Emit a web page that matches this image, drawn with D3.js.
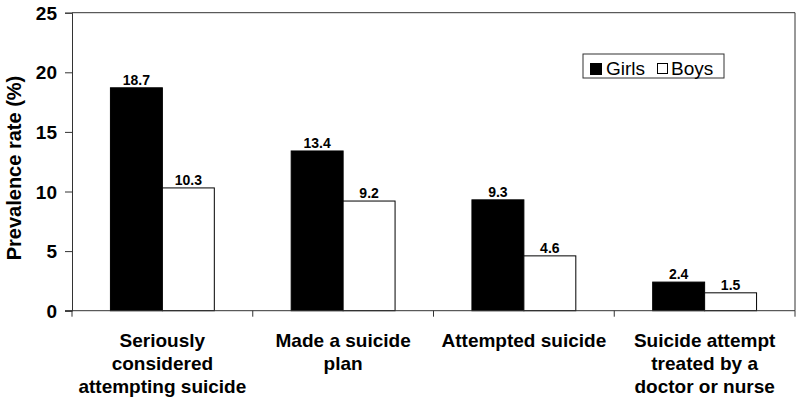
<!DOCTYPE html>
<html>
<head>
<meta charset="utf-8">
<script src="https://cdn.jsdelivr.net/npm/d3@7"></script>
<style>
  body { margin: 0; background: #fff; }
  text { font-family: Arial, "Liberation Sans", Helvetica, sans-serif; }
</style>
</head>
<body>
<script>
// chart data
var categories = [
  ["Seriously", "considered", "attempting suicide"],
  ["Made a suicide", "plan"],
  ["Attempted suicide"],
  ["Suicide attempt", "treated by a", "doctor or nurse"]
];
var seriesNames = ["Girls", "Boys"];
var girls = [18.7, 13.4, 9.3, 2.4];
var boys = [10.3, 9.2, 4.6, 1.5];
var yTicks = [0, 5, 10, 15, 20, 25];

var width = 800, height = 402;
var plotLeft = 72, plotRight = 795, plotTop = 12.7, plotBottom = 310.7;

var svg = d3.select("body").append("svg")
    .attr("width", width)
    .attr("height", height);

var keys = categories.map(function(d, i) { return "c" + i; });

var x0 = d3.scaleBand().domain(keys).range([plotLeft, plotRight]).padding(0);
var x1 = d3.scaleBand().domain(seriesNames).range([0, x0.bandwidth()])
    .paddingInner(0).paddingOuter(0.74);
var y = d3.scaleLinear().domain([0, 25]).range([plotBottom, plotTop]);

// frame (top and right)
svg.append("line").attr("x1", plotLeft).attr("x2", plotRight).attr("y1", plotTop).attr("y2", plotTop)
    .attr("stroke", "#333").attr("stroke-width", 1);
svg.append("line").attr("x1", plotRight).attr("x2", plotRight).attr("y1", plotTop).attr("y2", plotBottom)
    .attr("stroke", "#333").attr("stroke-width", 1);

// bars
var rows = keys.map(function(k, i) {
  return { key: k, values: [ { s: "Girls", v: girls[i] }, { s: "Boys", v: boys[i] } ] };
});

var groups = svg.selectAll("g.grp").data(rows).enter().append("g")
    .attr("class", "grp")
    .attr("transform", function(d) { return "translate(" + x0(d.key) + ",0)"; });

groups.selectAll("rect").data(function(d) { return d.values; }).enter().append("rect")
    .attr("x", function(d) { return x1(d.s); })
    .attr("y", function(d) { return y(d.v); })
    .attr("width", x1.bandwidth())
    .attr("height", function(d) { return y(0) - y(d.v); })
    .attr("fill", function(d) { return d.s == "Girls" ? "#000" : "#fff"; })
    .attr("stroke", "#000")
    .attr("stroke-width", 1);

groups.selectAll("text.val").data(function(d) { return d.values; }).enter().append("text")
    .attr("class", "val")
    .attr("x", function(d) { return x1(d.s) + x1.bandwidth() / 2; })
    .attr("y", function(d) { return y(d.v) - 3; })
    .attr("text-anchor", "middle")
    .style("font-size", "14px")
    .style("font-weight", "bold")
    .text(function(d) { return d.v.toFixed(1); });

// y axis
var yAxis = svg.append("g")
    .attr("transform", "translate(" + plotLeft + ",0)")
    .call(d3.axisLeft(y).tickValues(yTicks).tickSize(7).tickPadding(8));
yAxis.select(".domain").attr("stroke", "#333");
yAxis.selectAll(".tick line").attr("stroke", "#333");
yAxis.selectAll("text").style("font-size", "19px").style("font-weight", "bold")
    .attr("fill", "#000").attr("dy", "0.35em");

// x axis line and group ticks
svg.append("line").attr("x1", plotLeft - 7).attr("x2", plotRight).attr("y1", plotBottom).attr("y2", plotBottom)
    .attr("stroke", "#333");
var edges = keys.map(function(k) { return x0(k); }).concat([plotRight]);
svg.selectAll("line.xtick").data(edges).enter().append("line")
    .attr("class", "xtick")
    .attr("x1", function(d) { return d; }).attr("x2", function(d) { return d; })
    .attr("y1", plotBottom).attr("y2", plotBottom + 6)
    .attr("stroke", "#333");

// category labels
var catLabels = svg.selectAll("text.cat").data(rows).enter().append("text")
    .attr("class", "cat")
    .attr("text-anchor", "middle")
    .style("font-size", "19px")
    .style("font-weight", "bold");
catLabels.each(function(d, i) {
  var t = d3.select(this);
  categories[i].forEach(function(line, j) {
    t.append("tspan")
      .attr("x", x0(d.key) + x0.bandwidth() / 2)
      .attr("y", 347 + j * 23)
      .text(line);
  });
});

// y axis title
svg.append("text")
    .attr("transform", "translate(21," + 168 + ") rotate(-90)")
    .attr("text-anchor", "middle")
    .style("font-size", "20px")
    .style("font-weight", "bold")
    .text("Prevalence rate (%)");

// legend
var legend = svg.append("g");
legend.append("rect").attr("x", 583).attr("y", 54).attr("width", 141).attr("height", 24)
    .attr("fill", "#fff").attr("stroke", "#333");
legend.append("rect").attr("x", 590).attr("y", 63).attr("width", 12).attr("height", 12)
    .attr("fill", "#000");
legend.append("text").attr("x", 606).attr("y", 75).style("font-size", "19px").text(seriesNames[0]);
legend.append("rect").attr("x", 657.5).attr("y", 63.5).attr("width", 10).attr("height", 10)
    .attr("fill", "#fff").attr("stroke", "#000");
legend.append("text").attr("x", 671).attr("y", 75).style("font-size", "19px").text(seriesNames[1]);
</script>
</body>
</html>
